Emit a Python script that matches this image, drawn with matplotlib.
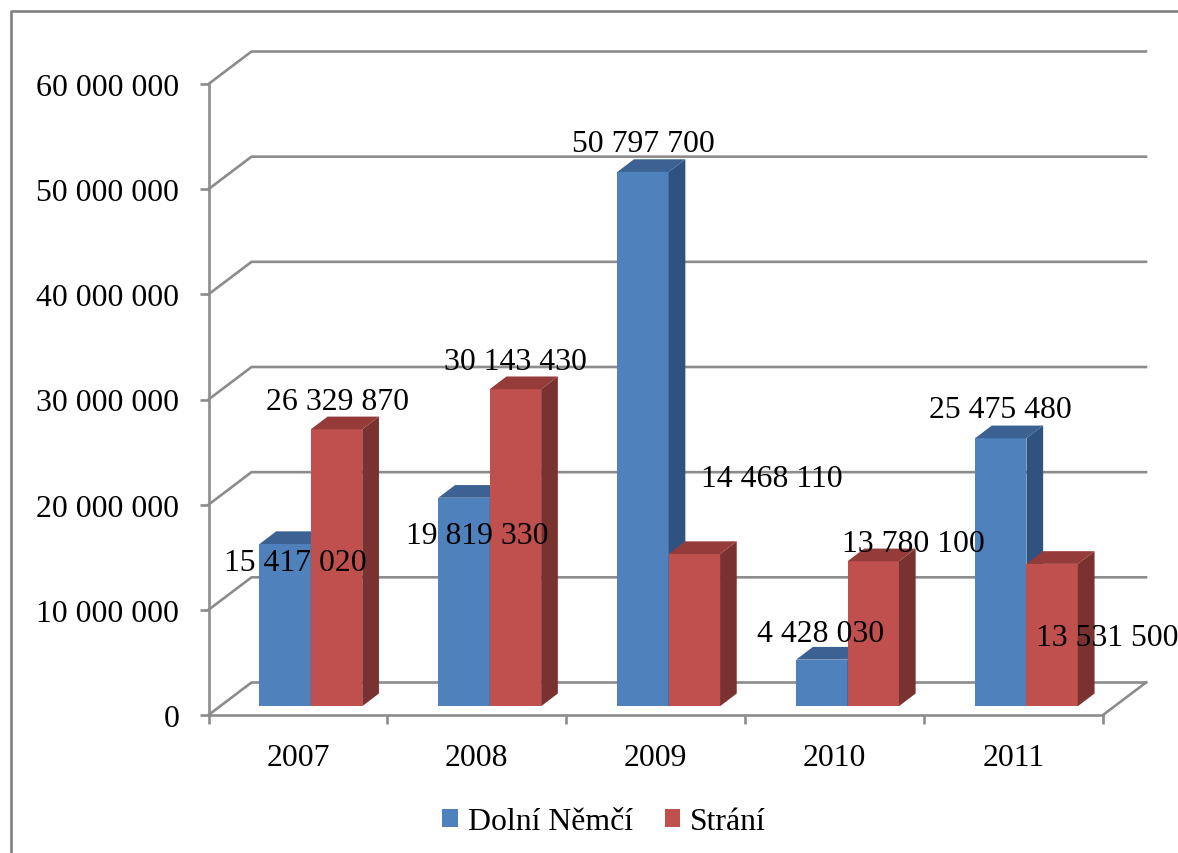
#! /usr/bin/env python

import matplotlib
matplotlib.use("Agg")
import matplotlib.pyplot as plt
from matplotlib.patches import Patch, Polygon

years = ["2007", "2008", "2009", "2010", "2011"]
dolni = [15417020, 19819330, 50797700, 4428030, 25475480]
strani = [26329870, 30143430, 14468110, 13780100, 13531500]
series_names = ["Dolní Němčí", "Strání"]
yticks = [0, 10000000, 20000000, 30000000, 40000000, 50000000, 60000000]

# where the value labels sit in the picture (px from top left)
dolni_label_px = [(295, 564), (477, 537), (643, 144), (821, 634), (1000, 411)]
strani_label_px = [(337, 402), (515, 362), (772, 480), (913, 545), (1107, 639)]

W, H = 1178, 854
GRID = "#8C8C8C"
FS = 22.9
LW = 1.9

plt.rcParams["font.family"] = ["Liberation Serif", "DejaVu Serif"]


def fmt(v):
    return f"{v:,}".replace(",", " ")


def px(x, y):
    return x / W, 1 - y / H


fig = plt.figure(figsize=(W / 100, H / 100), dpi=100)
left, right, top, bottom = 208.5, 1103, 85, 716
ax = fig.add_axes([left / W, 1 - bottom / H, (right - left) / W, (bottom - top) / H])
ax.set_xlim(-0.5, 4.5)
ax.set_ylim(0, 60000000)

# pixel sizes turned into data units
xu = 5 / (right - left)
yu = 60000000 / (bottom - top)
wall_dx, wall_dy = 43 * xu, 32.5 * yu
bar_dx, bar_dy = 16.7 * xu, 12.7 * yu
floor_dx, floor_dy = 12.9 * xu, 8.8 * yu
width = 51.4 * xu

# back wall and floor
for v in yticks:
    ax.plot([-0.5, -0.5 + wall_dx, 4.5 + wall_dx], [v, v + wall_dy, v + wall_dy],
            color=GRID, lw=LW, clip_on=False, zorder=1, solid_joinstyle="miter")
ax.plot([4.5, 4.5 + wall_dx], [0, wall_dy], color=GRID, lw=LW, clip_on=False, zorder=1)


def bars(values, shift, front, side, roof):
    for i, v in enumerate(values):
        x0 = i + floor_dx + shift
        x1 = x0 + width
        ax.bar(x0, v, width=width, bottom=floor_dy, align="edge", color=front,
               linewidth=0, zorder=3, clip_on=False)
        t = v + floor_dy
        ax.add_patch(Polygon([(x1, floor_dy), (x1 + bar_dx, floor_dy + bar_dy),
                              (x1 + bar_dx, t + bar_dy), (x1, t)],
                             facecolor=side, linewidth=0, zorder=3, clip_on=False))
        ax.add_patch(Polygon([(x0, t), (x0 + bar_dx, t + bar_dy),
                              (x1 + bar_dx, t + bar_dy), (x1, t)],
                             facecolor=roof, linewidth=0, zorder=3, clip_on=False))


bars(dolni, -width, "#4F81BD", "#2F5380", "#3B6292")
bars(strani, 0, "#C0504D", "#7A3230", "#953B39")

for name in ["top", "right"]:
    ax.spines[name].set_visible(False)
for name in ["left", "bottom"]:
    ax.spines[name].set_color(GRID)
    ax.spines[name].set_linewidth(LW)
    ax.spines[name].set_zorder(2)

ax.set_yticks(yticks)
ax.set_yticklabels([fmt(v) for v in yticks], fontsize=FS)
ax.tick_params(axis="y", direction="out", length=6.5, width=LW, color=GRID, pad=14.5)
ax.set_xticks([-0.5, 0.5, 1.5, 2.5, 3.5, 4.5])
ax.set_xticklabels([])
ax.set_xticks(range(len(years)), labels=years, minor=True, fontsize=FS)
ax.tick_params(axis="x", which="major", direction="out", length=6.5, width=LW, color=GRID)
ax.tick_params(axis="x", which="minor", length=0, pad=20.5)

for vals, places in [(dolni, dolni_label_px), (strani, strani_label_px)]:
    for v, (x, y) in zip(vals, places):
        fx, fy = px(x, y)
        fig.text(fx, fy, fmt(v), ha="center", va="center", fontsize=FS, color="black", zorder=5)

handles = [Patch(facecolor="#4F81BD"), Patch(facecolor="#C0504D")]
fig.legend(handles, series_names, ncol=2, frameon=False, fontsize=FS,
           loc="center", bbox_to_anchor=px(604, 823),
           handlelength=0.5, handleheight=0.5, handletextpad=0.3, columnspacing=1.0,
           borderpad=0, borderaxespad=0)

# outer chart frame, only its top and left edge are in the picture
fig.add_artist(plt.Line2D([10.5 / W, 10.5 / W, 1], [0, 1 - 12 / H, 1 - 12 / H],
                          color="#808080", lw=LW, transform=fig.transFigure))

fig.savefig("out.png", dpi=100)
